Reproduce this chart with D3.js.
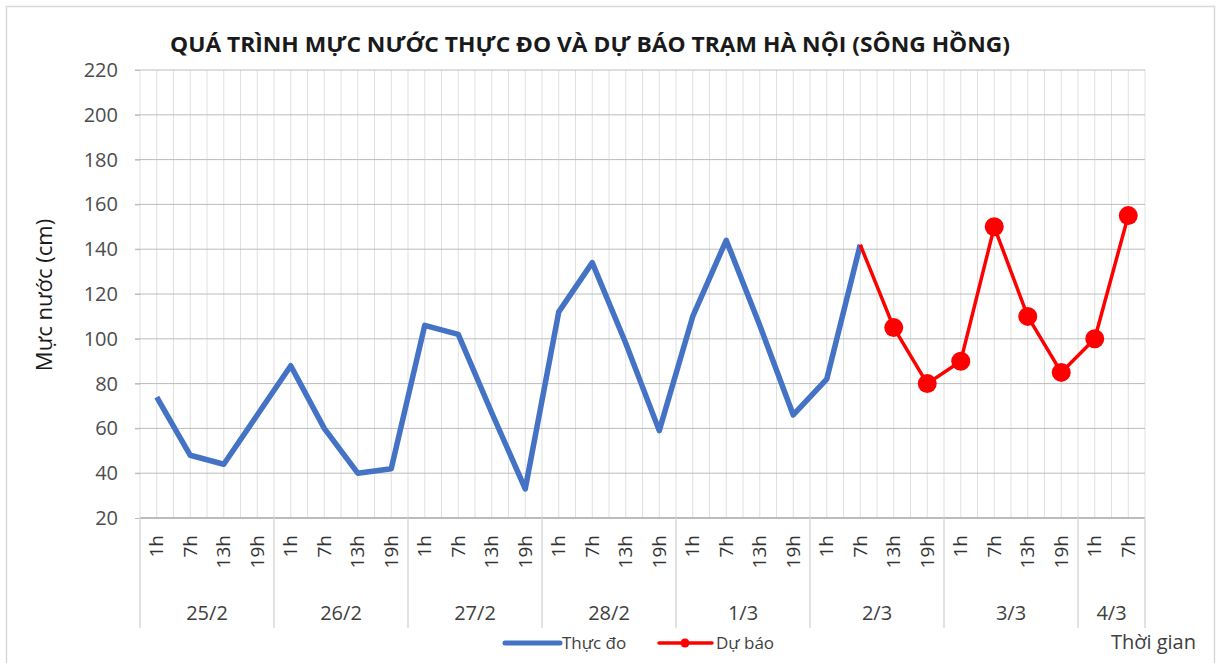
<!DOCTYPE html>
<html>
<head>
<meta charset="utf-8">
<script src="https://cdn.jsdelivr.net/npm/d3@7"></script>
<style>
  body { margin: 0; background: #fff; }
  svg { display: block; font-family: "Open Sans", sans-serif; }
</style>
</head>
<body>
<svg id="chart" width="1219" height="663"></svg>
<script>
// Ngày và giờ quan trắc
const days = ['25/2', '26/2', '27/2', '28/2', '1/3', '2/3', '3/3', '4/3'];
const hours = ['1h', '7h', '13h', '19h'];
const hoursPerDay = [4, 4, 4, 4, 4, 4, 4, 2];

// Mực nước (cm)
const thucDo = [74, 48, 44, 66, 88, 60, 40, 42, 106, 102, 67, 33, 112, 134, 98, 59, 110, 144, 106, 66, 82, 142,
  null, null, null, null, null, null, null, null];
const duBao = [null, null, null, null, null, null, null, null, null, null, null, null, null, null, null, null,
  null, null, null, null, null, 142, 105, 80, 90, 150, 110, 85, 100, 155];

const yTicks = [20, 40, 60, 80, 100, 120, 140, 160, 180, 200, 220];

// danh sách nhãn trục x
const cats = [];
days.forEach((d, i) => {
  for (let k = 0; k < hoursPerDay[i]; k++) cats.push({ day: d, hour: hours[k] });
});

const svg = d3.select('#chart');
const plotL = 140, plotR = 1145, plotT = 70, plotB = 518;

// khung ngoài
svg.append('rect')
  .attr('x', 6.5).attr('y', 6.5)
  .attr('width', 1208).attr('height', 662)
  .attr('fill', '#fff')
  .attr('stroke', '#d9d9d9')
  .attr('stroke-width', 1.5);

const x = d3.scaleBand()
  .domain(d3.range(cats.length))
  .range([plotL, plotR])
  .padding(0);
const bw = x.bandwidth();
const cx = i => x(i) + bw / 2;

const y = d3.scaleLinear()
  .domain([20, 220])
  .range([plotB, plotT]);

// lưới dọc (mỗi nửa ô)
const vLines = [];
cats.forEach((c, i) => { vLines.push(x(i)); vLines.push(cx(i)); });
vLines.push(plotR);
svg.append('g').selectAll('line')
  .data(vLines)
  .join('line')
  .attr('x1', d => d).attr('x2', d => d)
  .attr('y1', plotT).attr('y2', plotB)
  .attr('stroke', '#e0e0e0')
  .attr('stroke-width', 1);

// lưới ngang
svg.append('g').selectAll('line')
  .data(yTicks.slice(1))
  .join('line')
  .attr('x1', plotL - 5).attr('x2', plotR)
  .attr('y1', d => y(d)).attr('y2', d => y(d))
  .attr('stroke', '#bcbcbc')
  .attr('stroke-width', 1);

// trục y
const yAxis = svg.append('g')
  .attr('transform', `translate(${plotL},0)`)
  .call(d3.axisLeft(y).tickValues(yTicks).tickSize(5).tickPadding(17));
yAxis.select('.domain').remove();
yAxis.selectAll('line').attr('stroke', '#bcbcbc');
yAxis.selectAll('text')
  .attr('font-size', 20)
  .attr('font-family', '"Open Sans", sans-serif')
  .attr('fill', '#4d4d4d');

// trục x - giờ
const xAxis = svg.append('g')
  .attr('transform', `translate(0,${plotB})`)
  .call(d3.axisBottom(x).tickSize(0).tickFormat(i => cats[i].hour));
xAxis.select('.domain')
  .attr('d', `M${plotL},0H${plotR}`)
  .attr('stroke', '#bcbcbc')
  .attr('stroke-width', 2);
xAxis.selectAll('text')
  .attr('font-size', 19)
  .attr('font-family', '"Open Sans", sans-serif')
  .attr('fill', '#333')
  .attr('text-anchor', 'end')
  .attr('transform', 'rotate(-90)')
  .attr('x', -17)
  .attr('y', 0)
  .attr('dy', '0.35em');

// trục x - ngày
let start = 0;
const dayG = svg.append('g');
const seps = [plotL];
days.forEach((d, i) => {
  const end = start + hoursPerDay[i];
  const x0 = x(start), x1 = end < cats.length ? x(end) : plotR;
  seps.push(x1);
  dayG.append('text')
    .attr('x', (x0 + x1) / 2)
    .attr('y', 620)
    .attr('text-anchor', 'middle')
    .attr('font-size', 20)
    .attr('fill', '#404040')
    .text(d);
  start = end;
});
dayG.selectAll('line')
  .data(seps)
  .join('line')
  .attr('x1', d => d).attr('x2', d => d)
  .attr('y1', plotB).attr('y2', 628)
  .attr('stroke', '#d9d9d9')
  .attr('stroke-width', 1.5);

// đường thực đo
const line = d3.line()
  .defined(d => d.v != null)
  .x(d => cx(d.i))
  .y(d => y(d.v));

svg.append('path')
  .datum(thucDo.map((v, i) => ({ i, v })))
  .attr('d', line)
  .attr('fill', 'none')
  .attr('stroke', '#4472C4')
  .attr('stroke-width', 5.5)
  .attr('stroke-linejoin', 'round');

// đường dự báo
svg.append('path')
  .datum(duBao.map((v, i) => ({ i, v })))
  .attr('d', line)
  .attr('fill', 'none')
  .attr('stroke', '#FF0000')
  .attr('stroke-width', 3.5)
  .attr('stroke-linejoin', 'round');

svg.append('g').selectAll('circle')
  .data(duBao.map((v, i) => ({ i, v })).filter(d => d.v != null && thucDo[d.i] == null))
  .join('circle')
  .attr('cx', d => cx(d.i))
  .attr('cy', d => y(d.v))
  .attr('r', 9.5)
  .attr('fill', '#FF0000');

// tiêu đề
svg.append('text')
  .attr('x', 590)
  .attr('y', 52)
  .attr('text-anchor', 'middle')
  .attr('font-size', 21)
  .attr('font-weight', 'bold')
  .attr('fill', '#1a1a1a')
  .attr('textLength', 840)
  .attr('lengthAdjust', 'spacingAndGlyphs')
  .text('QUÁ TRÌNH MỰC NƯỚC THỰC ĐO VÀ DỰ BÁO TRẠM HÀ NỘI (SÔNG HỒNG)');

// tên trục y
svg.append('text')
  .attr('transform', 'translate(52,295) rotate(-90)')
  .attr('text-anchor', 'middle')
  .attr('font-size', 22)
  .attr('fill', '#1a1a1a')
  .text('Mực nước (cm)');

// tên trục x
svg.append('text')
  .attr('x', 1196)
  .attr('y', 649)
  .attr('text-anchor', 'end')
  .attr('font-size', 20)
  .attr('fill', '#404040')
  .text('Thời gian');

// chú thích
const leg = svg.append('g');
leg.append('line')
  .attr('x1', 505).attr('x2', 560)
  .attr('y1', 643).attr('y2', 643)
  .attr('stroke', '#4472C4').attr('stroke-width', 5)
  .attr('stroke-linecap', 'round');
leg.append('text')
  .attr('x', 562).attr('y', 649)
  .attr('font-size', 17).attr('fill', '#404040')
  .text('Thực đo');
leg.append('line')
  .attr('x1', 659).attr('x2', 712)
  .attr('y1', 643).attr('y2', 643)
  .attr('stroke', '#FF0000').attr('stroke-width', 3.5)
  .attr('stroke-linecap', 'round');
leg.append('circle')
  .attr('cx', 685).attr('cy', 643).attr('r', 4.5)
  .attr('fill', '#FF0000');
leg.append('text')
  .attr('x', 716).attr('y', 649)
  .attr('font-size', 17).attr('fill', '#404040')
  .text('Dự báo');
</script>
</body>
</html>
